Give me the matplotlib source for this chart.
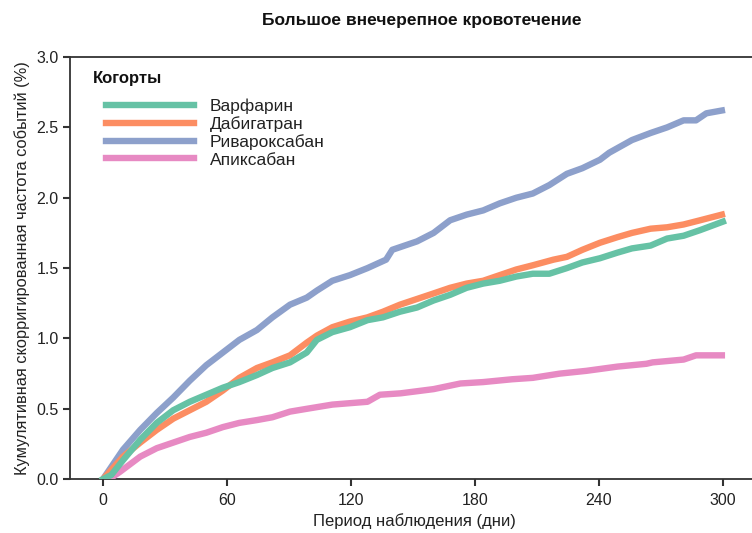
import numpy as np
import matplotlib
matplotlib.use("Agg")
import matplotlib.pyplot as plt

plt.rcParams['font.family'] = ['Liberation Sans', 'DejaVu Sans']

# values (days, cumulative %)
riva_days = [0, 9.7, 18, 26, 34, 42, 50, 58, 66, 74.5, 82, 90.5, 98.6, 103.5, 111, 119.5, 128,
             137, 140, 152, 160, 168, 176, 184, 192, 200, 208, 216, 224.5, 232, 240.5, 245,
             256, 265, 273, 281, 287, 292, 299.5]
riva_vals = [0, 0.21, 0.35, 0.47, 0.58, 0.70, 0.81, 0.90, 0.99, 1.06, 1.15, 1.24, 1.29, 1.34, 1.41,
             1.45, 1.50, 1.56, 1.63, 1.69, 1.75, 1.84, 1.88, 1.91, 1.96, 2.00, 2.03, 2.09, 2.17,
             2.21, 2.27, 2.32, 2.41, 2.46, 2.50, 2.55, 2.55, 2.60, 2.62]

dabi_days = [0, 9.7, 18, 26, 34, 42, 50, 58, 66, 74.5, 82, 90.5, 98.6, 103.5, 111, 119.5, 128,
             135.5, 143.7, 160, 168, 176, 184, 192, 200, 208, 218, 224.5, 232, 240.5, 249,
             256, 265, 273, 281, 289, 299.5]
dabi_vals = [0, 0.16, 0.26, 0.35, 0.43, 0.49, 0.55, 0.63, 0.72, 0.79, 0.83, 0.88, 0.97, 1.02, 1.08,
             1.12, 1.15, 1.19, 1.24, 1.32, 1.36, 1.39, 1.41, 1.45, 1.49, 1.52, 1.56, 1.58, 1.63,
             1.68, 1.72, 1.75, 1.78, 1.79, 1.81, 1.84, 1.88]

warf_days = [0, 4, 9.7, 18, 26, 34, 42, 50, 58, 66, 74.5, 82, 90.5, 98.6, 103.5, 111, 119.5, 128,
             135.5, 143.7, 152, 160, 168, 176, 184, 192, 200, 208, 216, 224.5, 232, 240.5,
             249, 256, 265, 273, 281, 289, 300]
warf_vals = [0, 0.03, 0.135, 0.28, 0.40, 0.49, 0.55, 0.60, 0.65, 0.69, 0.74, 0.79, 0.83, 0.90, 0.99,
             1.045, 1.08, 1.13, 1.15, 1.19, 1.22, 1.27, 1.31, 1.36, 1.39, 1.41, 1.44, 1.46,
             1.46, 1.50, 1.54, 1.57, 1.61, 1.64, 1.66, 1.71, 1.73, 1.77, 1.83]

apix_days = [3, 8, 18, 26, 34, 42, 50, 58, 66, 74.5, 82, 90.5, 98.6, 111, 128, 134, 144, 160,
             173, 184, 198, 208, 221, 234, 249, 263, 266, 281, 287, 299.5]
apix_vals = [0, 0.05, 0.16, 0.22, 0.26, 0.30, 0.33, 0.37, 0.40, 0.42, 0.44, 0.48, 0.50, 0.53, 0.55,
             0.60, 0.61, 0.64, 0.68, 0.69, 0.71, 0.72, 0.75, 0.77, 0.80, 0.82, 0.83, 0.85,
             0.88, 0.88]

fig = plt.figure(figsize=(7.52, 5.33), dpi=100)
ax = fig.add_axes([0.093, 0.101, 0.915, 0.792])

lw = 4.6
ax.plot(riva_days, riva_vals, color='#8da0cb', lw=lw, zorder=3, label='Ривароксабан')
ax.plot(dabi_days, dabi_vals, color='#fc8d62', lw=lw, zorder=4, label='Дабигатран')
ax.plot(warf_days, warf_vals, color='#66c2a5', lw=lw, zorder=5, label='Варфарин')
ax.plot(apix_days, apix_vals, color='#e78ac3', lw=lw, zorder=3, label='Апиксабан')

ax.set_xlim(-16, 317)
ax.set_ylim(0, 3.0)
ax.set_xticks([0, 60, 120, 180, 240, 300])
ax.set_yticks(np.arange(0, 3.01, 0.5))
ax.set_yticklabels(['%.1f' % v for v in np.arange(0, 3.01, 0.5)])

for s in ['left', 'bottom', 'top']:
    ax.spines[s].set_color('#333333')
    ax.spines[s].set_linewidth(1.3)
ax.spines['right'].set_visible(False)
ax.tick_params(axis='both', direction='out', length=5, width=1.5, color='#333333',
               labelsize=11.5, labelcolor='#222222', pad=3)
ax.tick_params(axis='x', pad=5)

ax.set_xlabel('Период наблюдения (дни)', fontsize=12, color='#222222', labelpad=4)
ax.set_ylabel('Кумулятивная скорригированная частота событий (%)', fontsize=11.8,
              color='#222222', labelpad=5)
fig.text(0.561, 0.962, 'Большое внечерепное кровотечение', ha='center', va='center',
         fontsize=12.5, fontweight='bold', color='#111111')

ax.text(0.033, 0.950, 'Когорты', transform=ax.transAxes, ha='left', va='center',
        fontsize=12, fontweight='bold', color='#111111')

handles, labels = ax.get_legend_handles_labels()
order = [2, 1, 0, 3]
leg = ax.legend([handles[i] for i in order], [labels[i] for i in order],
                loc='upper left', bbox_to_anchor=(0.0523, 0.902),
                frameon=False, fontsize=12.5, handlelength=5.06, handletextpad=0.92,
                labelspacing=0.13, borderaxespad=0.0, borderpad=0.0)
for t in leg.get_texts():
    t.set_color('#222222')

fig.savefig('out.png', dpi=100)
